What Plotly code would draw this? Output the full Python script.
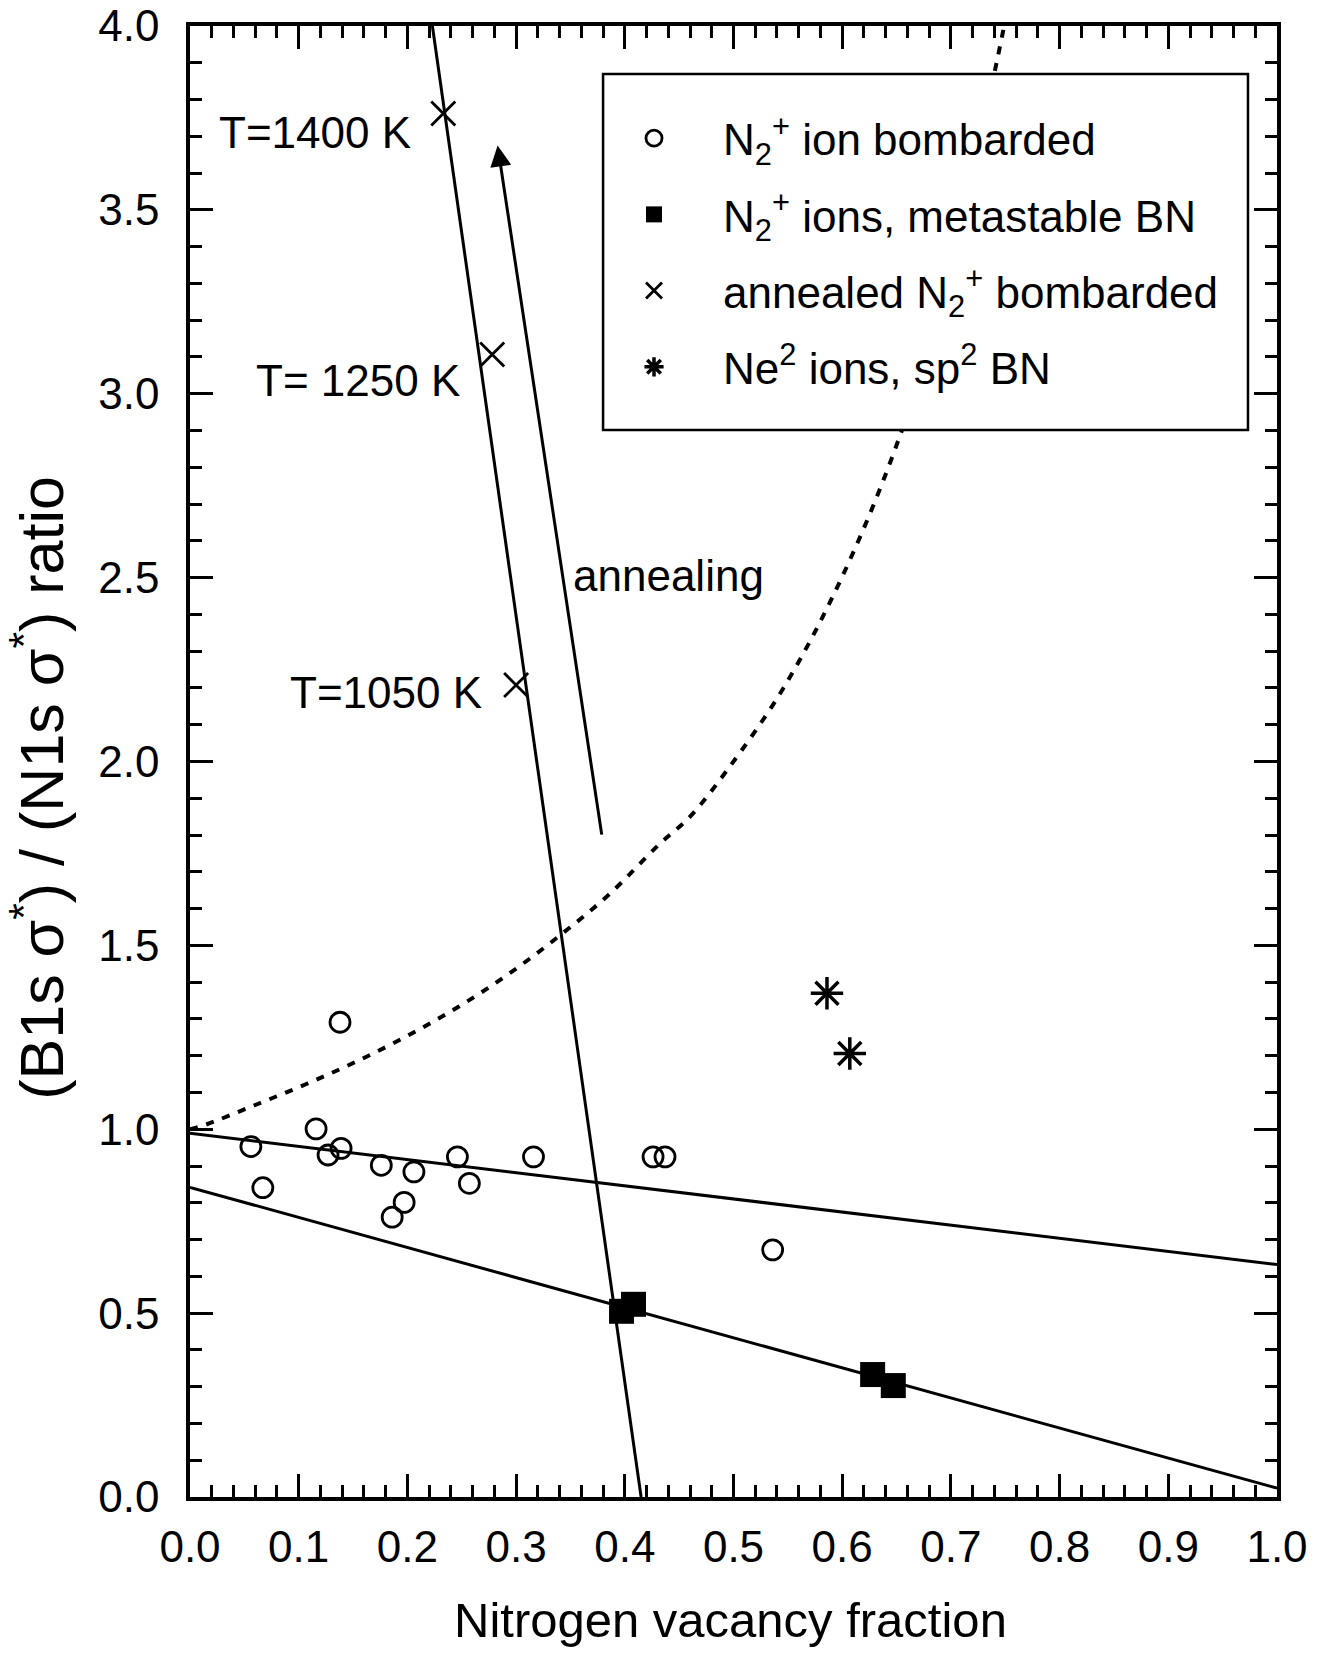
import plotly.graph_objects as go

# ---------------- data ----------------
circ_x = [0.056, 0.067, 0.116, 0.127, 0.138, 0.139, 0.176, 0.206, 0.197, 0.186,
          0.246, 0.257, 0.316, 0.426, 0.437, 0.536]
circ_y = [0.953, 0.841, 1.001, 0.930, 1.291, 0.948, 0.902, 0.884, 0.801, 0.761,
          0.925, 0.853, 0.925, 0.925, 0.925, 0.672]

sq_x = [0.397, 0.408, 0.628, 0.647]
sq_y = [0.505, 0.524, 0.333, 0.303]

ann_x = [0.233, 0.278, 0.300]
ann_y = [3.762, 3.107, 2.208]
ann_labels = ["T=1400 K", "T= 1250 K", "T=1050 K"]

ne_x = [0.586, 0.607]
ne_y = [1.370, 1.206]

upper_x = [0.0, 1.0]
upper_y = [0.989, 0.632]

lower_x = [0.0, 1.0]
lower_y = [0.842, 0.024]

steep_x = [0.223, 0.415]
steep_y = [4.0, 0.0]

dot_x = [0.0, 0.014, 0.06, 0.107, 0.153, 0.20, 0.247, 0.293, 0.339, 0.385,
         0.431, 0.46, 0.495, 0.546, 0.598, 0.65, 0.70, 0.742, 0.749]
dot_y = [1.0, 1.012, 1.066, 1.123, 1.184, 1.254, 1.333, 1.422, 1.524, 1.637,
         1.773, 1.85, 1.98, 2.20, 2.49, 2.86, 3.33, 3.90, 4.0]

arrow_tail = (0.379, 1.797)
arrow_tip = (0.283, 3.675)

x_ticks = [0.0, 0.1, 0.2, 0.3, 0.4, 0.5, 0.6, 0.7, 0.8, 0.9, 1.0]
y_ticks = [0.0, 0.5, 1.0, 1.5, 2.0, 2.5, 3.0, 3.5, 4.0]

FONT = "Liberation Sans, Arial, Helvetica, sans-serif"
BLACK = "black"

fig = go.Figure()

# lines
fig.add_trace(go.Scatter(x=dot_x, y=dot_y, mode="lines", showlegend=False,
                         line=dict(color=BLACK, width=4, dash="8px,9px", shape="spline"),
                         hoverinfo="skip"))
fig.add_trace(go.Scatter(x=upper_x, y=upper_y, mode="lines", showlegend=False,
                         line=dict(color=BLACK, width=3), hoverinfo="skip"))
fig.add_trace(go.Scatter(x=lower_x, y=lower_y, mode="lines", showlegend=False,
                         line=dict(color=BLACK, width=3), hoverinfo="skip"))
fig.add_trace(go.Scatter(x=steep_x, y=steep_y, mode="lines", showlegend=False,
                         line=dict(color=BLACK, width=3), hoverinfo="skip"))

# markers
fig.add_trace(go.Scatter(
    x=circ_x, y=circ_y, mode="markers", legendgroup="a",
    name="N<sub>2</sub><sup>+</sup> ion bombarded",
    marker=dict(symbol="circle-open", size=20, color=BLACK, line=dict(width=2.8, color=BLACK))))
fig.add_trace(go.Scatter(
    x=sq_x, y=sq_y, mode="markers", legendgroup="b",
    name="N<sub>2</sub><sup>+</sup> ions, metastable BN",
    marker=dict(symbol="square", size=25, color=BLACK, line=dict(width=0))))
fig.add_trace(go.Scatter(
    x=ann_x, y=ann_y, mode="markers", legendgroup="c",
    name="annealed N<sub>2</sub><sup>+</sup> bombarded",
    marker=dict(symbol="x-thin-open", size=24, color=BLACK, line=dict(width=2.8, color=BLACK))))
fig.add_trace(go.Scatter(
    x=ne_x, y=ne_y, mode="markers", legendgroup="d",
    name="Ne<sup>2</sup> ions, sp<sup>2</sup> BN",
    marker=dict(symbol="asterisk-open", size=27, color=BLACK, line=dict(width=3.5, color=BLACK))))

annotations = []
label_pos = [(0.2054, 3.71), (0.250, 3.035), (0.2703, 2.188)]
for (lx, ly), txt in zip(label_pos, ann_labels):
    annotations.append(dict(x=lx, y=ly, xref="x", yref="y", text=txt, showarrow=False,
                            xanchor="right", yanchor="middle",
                            font=dict(family=FONT, size=44, color=BLACK)))
annotations.append(dict(x=0.440, y=2.507, xref="x", yref="y", text="annealing", showarrow=False,
                        xanchor="center", yanchor="middle",
                        font=dict(family=FONT, size=44, color=BLACK)))
annotations.append(dict(x=arrow_tip[0], y=arrow_tip[1], ax=arrow_tail[0], ay=arrow_tail[1],
                        xref="x", yref="y", axref="x", ayref="y", text="", showarrow=True,
                        arrowhead=2, arrowsize=1.4, arrowwidth=3, arrowcolor=BLACK,
                        standoff=0, startstandoff=0))
# axis titles
annotations.append(dict(x=0.4977, y=-0.0836, xref="paper", yref="paper",
                        text="Nitrogen vacancy fraction", showarrow=False,
                        xanchor="center", yanchor="middle",
                        font=dict(family=FONT, size=49, color=BLACK)))
annotations.append(dict(x=-0.140, y=0.482, xref="paper", yref="paper",
                        text="(B1s \u03c3<sup>*</sup>) / (N1s \u03c3<sup>*</sup>) ratio",
                        showarrow=False, textangle=-90,
                        xanchor="center", yanchor="middle",
                        font=dict(family=FONT, size=61, color=BLACK)))

axis_common = dict(
    ticks="inside", tickwidth=3, tickcolor=BLACK, ticklen=23,
    showline=True, linewidth=3.5, linecolor=BLACK, mirror="ticks",
    showgrid=False, zeroline=False, automargin=False,
    tickfont=dict(family=FONT, size=44, color=BLACK),
)

# legend frame (paper coordinates), drawn above the traces; legend text sits on it
legend_box = dict(type="rect", xref="paper", yref="paper",
                  x0=0.380, x1=0.9733, y0=0.7254, y1=0.9674,
                  fillcolor="white", line=dict(color=BLACK, width=2.5), layer="above")

fig.update_layout(
    width=1318, height=1653,
    margin=dict(l=190, r=41, t=26, b=156),
    paper_bgcolor="white", plot_bgcolor="white",
    font=dict(family=FONT, color=BLACK),
    xaxis=dict(range=[0, 1], tickvals=x_ticks, ticktext=[f"{v:.1f}" for v in x_ticks],
               ticklabelstandoff=8,
               minor=dict(dtick=0.02, tick0=0, ticks="inside", ticklen=12, tickwidth=3,
                          tickcolor=BLACK, showgrid=False),
               **axis_common),
    yaxis=dict(range=[0, 4], tickvals=y_ticks, ticktext=[f"{v:.1f}" for v in y_ticks],
               ticklabelstandoff=18,
               minor=dict(dtick=0.1, tick0=0, ticks="inside", ticklen=12, tickwidth=3,
                          tickcolor=BLACK, showgrid=False),
               **axis_common),
    legend=dict(x=0.3634, y=0.9476, xanchor="left", yanchor="top",
                bgcolor="rgba(0,0,0,0)", borderwidth=0,
                font=dict(family=FONT, size=44, color=BLACK),
                tracegroupgap=16, itemsizing="trace", itemwidth=128),
    shapes=[legend_box],
    annotations=annotations,
)

fig.write_html("out.html", config={"displayModeBar": False},
               post_script="document.body.style.margin='0';")
